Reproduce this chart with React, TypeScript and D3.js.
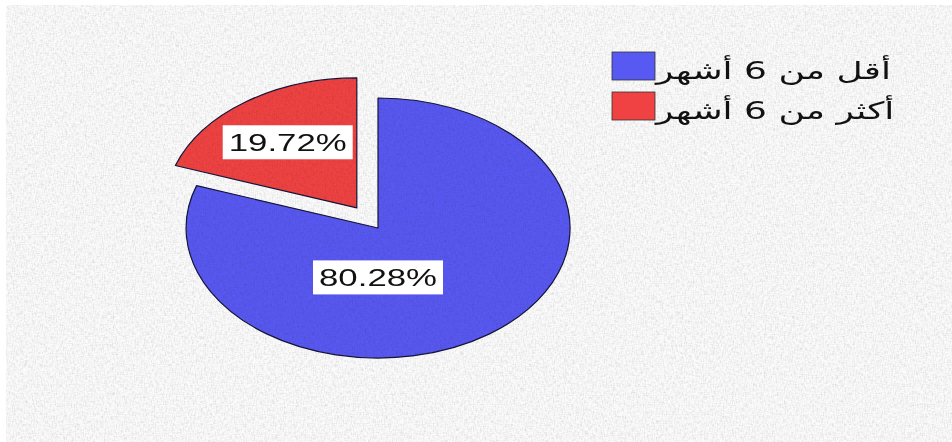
import React from "react";
import * as d3 from "d3";

const categories = ["أقل من 6 أشهر", "أكثر من 6 أشهر"];
const values = [80.28, 19.72];
const labels = ["80.28%", "19.72%"];
const colors = ["#5858f2", "#f04242"];

// layout
const W = 952;
const H = 442;
const CX = 378;
const CY = 228;
const RX = 192;
const RY = 130;
const EXPLODE = [0, 0.19];
const LABEL_R = [0.38, 0.62];
const LABEL_ANGLE: (number | null)[] = [Math.PI, null];
const SX = 1.45;

export default function App() {
  const pie = d3.pie<number>().sort(null).value((d) => d);
  const arcs = pie(values);
  const arcGen = d3.arc<d3.PieArcDatum<number>>().innerRadius(0).outerRadius(1);

  return (
    <svg width={W} height={H} style={{ position: "absolute", left: 0, top: 0 }}>
      <defs>
        <filter id="tex" x="0" y="0" width="100%" height="100%">
          <feTurbulence type="fractalNoise" baseFrequency="0.9 0.25" numOctaves="2" seed="3" result="n" />
          <feColorMatrix
            in="n"
            type="matrix"
            values="0 0 0 0 0  0 0 0 0 0  0 0 0 0 0  0 0 0 -1.8 1.0"
          />
        </filter>
        <filter id="tex2" x="0" y="0" width="100%" height="100%">
          <feTurbulence type="fractalNoise" baseFrequency="0.25 0.9" numOctaves="2" seed="7" result="n" />
          <feColorMatrix
            in="n"
            type="matrix"
            values="0 0 0 0 0  0 0 0 0 0  0 0 0 0 0  0 0 0 -1.8 1.0"
          />
        </filter>
      </defs>
      <rect x={0} y={0} width={W} height={H} fill="#ffffff" />
      <rect x={6} y={5} width={W - 6} height={H - 5} fill="#fbfbfb" />
      {arcs.map((a, i) => {
        const mid = (a.startAngle + a.endAngle) / 2;
        const ox = Math.sin(mid) * EXPLODE[i] * RX;
        const oy = -Math.cos(mid) * EXPLODE[i] * RY;
        return (
          <g key={"s" + i} transform={`translate(${CX + ox},${CY + oy}) scale(${RX},${RY})`}>
            <path
              d={arcGen(a) || ""}
              fill={colors[i]}
              stroke="#15153a"
              strokeWidth={1.2}
              vectorEffect="non-scaling-stroke"
              strokeLinejoin="round"
            />
          </g>
        );
      })}
      <rect x={6} y={5} width={W - 6} height={H - 5} filter="url(#tex)" opacity={0.1} style={{ mixBlendMode: "multiply" }} />
      <rect x={6} y={5} width={W - 6} height={H - 5} filter="url(#tex2)" opacity={0.08} style={{ mixBlendMode: "multiply" }} />
      {arcs.map((a, i) => {
        const mid = (a.startAngle + a.endAngle) / 2;
        const ox = Math.sin(mid) * EXPLODE[i] * RX;
        const oy = -Math.cos(mid) * EXPLODE[i] * RY;
        const ang = LABEL_ANGLE[i] ?? mid;
        const lx = CX + ox + Math.sin(ang) * LABEL_R[i] * RX;
        const ly = CY + oy - Math.cos(ang) * LABEL_R[i] * RY;
        return (
          <g key={"l" + i} transform={`translate(${lx},${ly})`}>
            <rect x={-65} y={-17} width={130} height={34} fill="#ffffff" />
            <g transform={`scale(${SX},1)`}>
              <text
                x={0}
                y={9}
                textAnchor="middle"
                fontFamily="'Liberation Sans', Arial, sans-serif"
                fontSize={24}
                fill="#111"
              >
                {labels[i]}
              </text>
            </g>
          </g>
        );
      })}
      {categories.map((c, i) => (
        <g key={"g" + i} transform={`translate(612,${52 + i * 40})`}>
          <rect x={0} y={0} width={43} height={28} fill={colors[i]} stroke="#333" strokeWidth={0.8} />
          <g transform={`translate(44,27) scale(1.5,1)`}>
            <text
              x={0}
              y={0}
              fontFamily="'DejaVu Sans', 'Liberation Sans', Arial, sans-serif"
              fontSize={24}
              fill="#111"
            >
              {c}
            </text>
          </g>
        </g>
      ))}
    </svg>
  );
}
